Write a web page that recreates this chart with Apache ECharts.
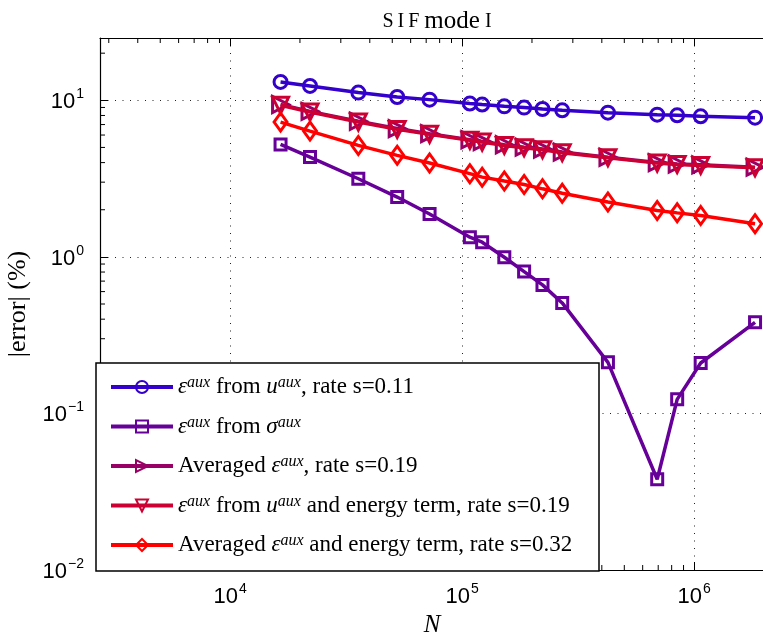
<!DOCTYPE html>
<html>
<head>
<meta charset="utf-8">
<script src="https://cdn.jsdelivr.net/npm/echarts@6/dist/echarts.min.js"></script>
<style>html,body{margin:0;padding:0;background:#fff;}#c{width:763px;height:639px;}</style>
</head>
<body>
<div id="c"></div>
<script>
// ---- data ----
const N = [16500, 22100, 35700, 52500, 72400, 108000, 122000, 152000, 185000, 222000, 270000, 425000, 693000, 845000, 1067000, 1830000];
const errFromU = [13.1, 12.35, 11.2, 10.5, 10.1, 9.53, 9.39, 9.15, 8.98, 8.80, 8.63, 8.34, 8.10, 8.02, 7.90, 7.75];
const errFromSigma = [5.23, 4.34, 3.155, 2.41, 1.88, 1.335, 1.24, 0.994, 0.805, 0.662, 0.508, 0.212, 0.038, 0.123, 0.210, 0.382];
const errAveraged = [9.4, 8.5, 7.35, 6.6, 6.12, 5.6, 5.45, 5.2, 5.02, 4.88, 4.67, 4.33, 4.0, 3.92, 3.87, 3.74];
const errFromUEnergy = [9.29, 8.41, 7.26, 6.52, 6.06, 5.55, 5.41, 5.15, 4.98, 4.84, 4.63, 4.30, 3.97, 3.89, 3.84, 3.71];
const errAveragedEnergy = [7.26, 6.36, 5.15, 4.45, 3.98, 3.40, 3.23, 3.05, 2.90, 2.72, 2.55, 2.24, 1.98, 1.91, 1.84, 1.63];
const legendLabels = [
  '{e|ε}{s|aux} from {e|u}{s|aux}, rate s=0.11',
  '{e|ε}{s|aux} from {e|σ}{s|aux}',
  'Averaged {e|ε}{s|aux}, rate s=0.19',
  '{e|ε}{s|aux} from {e|u}{s|aux} and energy term, rate s=0.19',
  'Averaged {e|ε}{s|aux} and energy term, rate s=0.32'
];
const colors = ['#3300cc', '#660099', '#990066', '#cc0033', '#ff0000'];

const XMIN = 2750, XMAX = 2000000, YMIN = 0.01, YMAX = 25;
const SERIF = '"Liberation Serif", "DejaVu Serif", serif';
const SANS = '"Liberation Sans", Arial, sans-serif';

function zip(ys) { return N.map((x, i) => [x, ys[i]]); }
function isPow10(v) { const l = Math.log10(v); return Math.abs(l - Math.round(l)) < 1e-6; }
function powLabel(v) {
  if (!isPow10(v)) return '';
  const e = Math.round(Math.log10(v));
  return '{b|10}{s|' + (e < 0 ? '\u2212' + (-e) : e) + '}';
}
const tickRich = {
  b: { fontFamily: SANS, fontSize: 22, color: '#000', lineHeight: 26, verticalAlign: 'bottom' },
  s: { fontFamily: SANS, fontSize: 14, color: '#000', lineHeight: 26, verticalAlign: 'top', padding: [0,0,0,1] }
};

const symbols = [
  { symbol: 'circle', size: 13, rotate: 0 },
  { symbol: 'rect', size: 11, rotate: 0 },
  { symbol: 'triangle', size: 16, rotate: -90 },
  { symbol: 'triangle', size: 16, rotate: 180 },
  { symbol: 'diamond', size: [13, 18], rotate: 0 }
];
const seriesData = [errFromU, errFromSigma, errAveraged, errFromUEnergy, errAveragedEnergy];

const chart = echarts.init(document.getElementById('c'), null, { renderer: 'canvas' });

const series = seriesData.map((d, i) => ({
  name: legendLabels[i],
  type: 'line',
  data: zip(d),
  color: colors[i],
  symbol: symbols[i].symbol,
  symbolSize: symbols[i].size,
  symbolRotate: symbols[i].rotate,
  showAllSymbol: true,
  lineStyle: { color: colors[i], width: 3.5 },
  itemStyle: { color: 'rgba(255,255,255,0)', borderColor: colors[i], borderWidth: 3 },
  emphasis: { disabled: true },
  animation: false,
  z: 2 + i * 0.01
}));

const axisCommon = {
  type: 'log', logBase: 10,
  axisLine: { show: true, lineStyle: { color: '#000', width: 1.2 } },
  axisTick: { show: true, inside: true, length: 8, lineStyle: { color: '#000', width: 1 } },
  minorTick: { show: false },
  splitLine: { show: false }
};

chart.setOption({
  animation: false,
  backgroundColor: '#fff',
  title: {
    text: '{c|S\u2009I\u2009F} {n|mode} {c|I}',
    left: 432, top: 4, textAlign: 'center',
    textStyle: { fontWeight: 'normal', rich: {
      c: { fontFamily: SERIF, fontSize: 20, fontWeight: 'normal', color: '#000' },
      n: { fontFamily: SERIF, fontSize: 25, fontWeight: 'normal', color: '#000' }
    } }
  },
  grid: { left: 100, top: 38, right: -1, bottom: 69, containLabel: false, outerBoundsMode: 'none' },
  xAxis: [
    Object.assign({}, axisCommon, {
      position: 'bottom', min: XMIN, max: XMAX,
      name: 'N', nameLocation: 'middle', nameGap: 40,
      nameTextStyle: { fontFamily: SERIF, fontStyle: 'italic', fontSize: 25, color: '#000' },
      axisLabel: { show: true, margin: 12, formatter: powLabel, rich: tickRich, color: '#000' },
      splitLine: { show: true, lineStyle: { color: '#222', width: 1, type: [1, 6.5] } }
    }),
    Object.assign({}, axisCommon, {
      position: 'top', min: XMIN, max: XMAX,
      axisLabel: { show: false }
    })
  ],
  yAxis: [
    Object.assign({}, axisCommon, {
      position: 'left', min: YMIN, max: YMAX,
      name: '|error| (%)', nameLocation: 'middle', nameGap: 62, nameRotate: 90,
      nameTextStyle: { fontFamily: SERIF, fontSize: 26, color: '#000', padding: [0, 0, 6, 0] },
      axisLabel: { show: true, margin: 16, formatter: powLabel, rich: tickRich, color: '#000' },
      splitLine: { show: true, lineStyle: { color: '#222', width: 1, type: [1, 6.5] } }
    })
  ],
  legend: {
    orient: 'vertical', left: 109, top: 375, padding: 0,
    itemWidth: 62, itemHeight: 15, itemGap: 15.5,
    z: 10,
    selectedMode: false,
    data: legendLabels,
    lineStyle: { width: 4 },
    formatter: (name) => name,
    textStyle: {
      fontFamily: SERIF, fontSize: 23, color: '#000', lineHeight: 24,
      rich: {
        e: { fontFamily: SERIF, fontSize: 23, fontStyle: 'italic', color: '#000', lineHeight: 24 },
        s: { fontFamily: SERIF, fontSize: 16, fontStyle: 'italic', color: '#000', lineHeight: 15, verticalAlign: 'top' }
      }
    }
  },
  graphic: [{
    type: 'rect', z: 8, silent: true,
    shape: { x: 96, y: 363, width: 503, height: 208 },
    style: { fill: '#fff', stroke: '#000', lineWidth: 1.5 }
  }],
  series: series
});

// minor ticks at 2..9 x 10^d, positioned through the chart's own scales
function addMinorTicks() {
  const els = [];
  const g = chart.getModel().getComponent('grid', 0).coordinateSystem.getRect();
  for (let d = 3; d <= 6; d++) {
    for (let m = 2; m <= 9; m++) {
      const v = m * Math.pow(10, d);
      if (v <= XMIN || v >= XMAX) continue;
      const px = chart.convertToPixel({ xAxisIndex: 0 }, v);
      els.push({ type: 'line', z: 3, silent: true, shape: { x1: px, y1: g.y + g.height, x2: px, y2: g.y + g.height - 5 }, style: { stroke: '#000', lineWidth: 1 } });
      els.push({ type: 'line', z: 3, silent: true, shape: { x1: px, y1: g.y, x2: px, y2: g.y + 5 }, style: { stroke: '#000', lineWidth: 1 } });
    }
  }
  for (let d = -2; d <= 1; d++) {
    for (let m = 2; m <= 9; m++) {
      const v = m * Math.pow(10, d);
      if (v <= YMIN || v >= YMAX) continue;
      const py = chart.convertToPixel({ yAxisIndex: 0 }, v);
      els.push({ type: 'line', z: 3, silent: true, shape: { x1: g.x, y1: py, x2: g.x + 5, y2: py }, style: { stroke: '#000', lineWidth: 1 } });
    }
  }
  const base = chart.getOption().graphic[0].elements.slice(0, 1);
  chart.setOption({ graphic: { elements: base.concat(els) } }, { replaceMerge: ['graphic'] });
}
addMinorTicks();
</script>
</body>
</html>
